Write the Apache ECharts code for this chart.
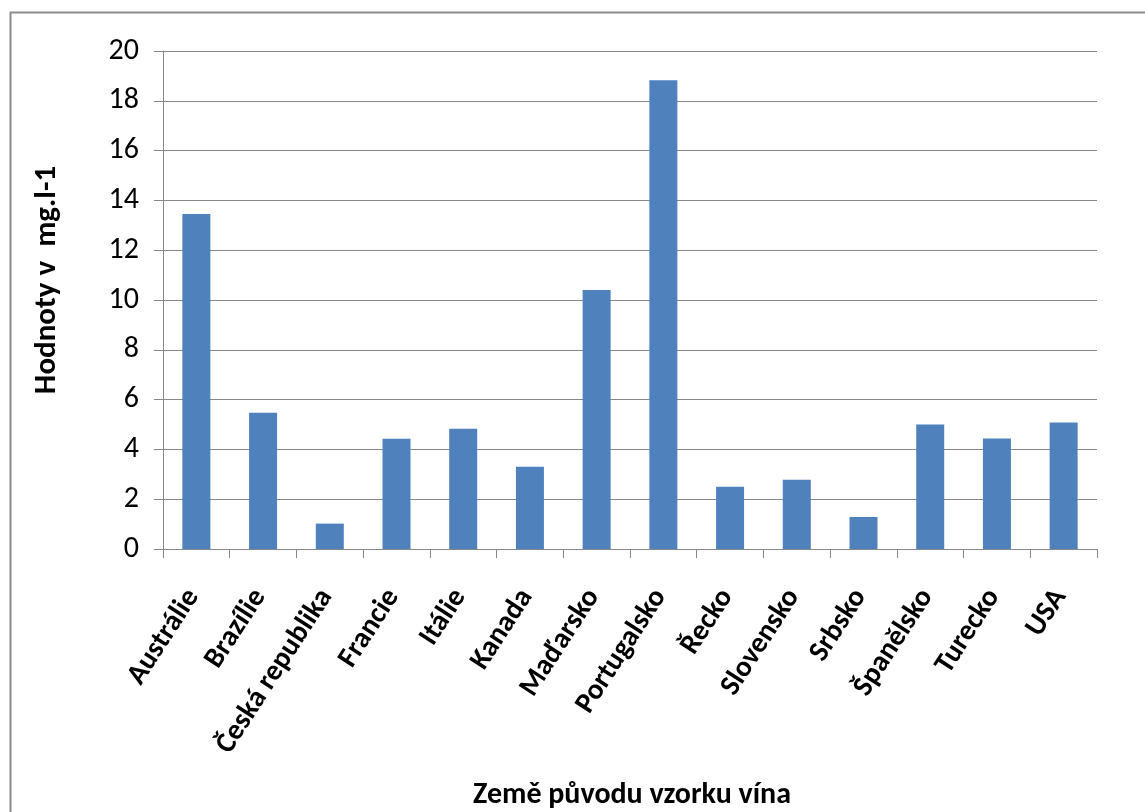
<!DOCTYPE html>
<html>
<head>
<meta charset="utf-8">
<script src="https://cdn.jsdelivr.net/npm/echarts@6/dist/echarts.min.js"></script>
<style>
  html, body { margin: 0; padding: 0; background: #fff; }
  #chart { width: 1145px; height: 812px; }
</style>
</head>
<body>
<div id="chart"></div>
<script>
// Země původu vzorků vína
const categories = ['Austrálie', 'Brazílie', 'Česká republika', 'Francie', 'Itálie', 'Kanada',
  'Maďarsko', 'Portugalsko', 'Řecko', 'Slovensko', 'Srbsko', 'Španělsko', 'Turecko', 'USA'];
// Naměřené hodnoty v mg.l-1
const values = [13.45, 5.47, 1.02, 4.43, 4.83, 3.30, 10.40, 18.83, 2.50, 2.78, 1.29, 5.00, 4.44, 5.08];
const yTicks = { min: 0, max: 20, interval: 2 };
const yName = 'Hodnoty v  mg.l-1';
const xName = 'Země původu vzorku vína';

const FONT = 'Carlito, Lato, "Noto Sans", sans-serif';
const gridColor = '#878787';

const chart = echarts.init(document.getElementById('chart'), null, { renderer: 'canvas' });
chart.setOption({
  backgroundColor: '#ffffff',
  animation: false,
  grid: { left: 163, right: 48, top: 51, bottom: 263, containLabel: false },
  xAxis: {
    type: 'category',
    data: categories,
    axisLine: { lineStyle: { color: gridColor, width: 1 } },
    axisTick: { show: true, length: 9, alignWithLabel: false, lineStyle: { color: gridColor } },
    axisLabel: {
      rotate: 57,
      interval: 0,
      margin: 38,
      padding: [0, 6, 0, 0],
      fontFamily: FONT,
      fontWeight: 'bold',
      fontSize: 29,
      color: '#000'
    }
  },
  yAxis: {
    type: 'value',
    min: yTicks.min,
    max: yTicks.max,
    interval: yTicks.interval,
    axisLine: { show: true, lineStyle: { color: gridColor, width: 1 } },
    axisTick: { show: true, length: 9, lineStyle: { color: gridColor } },
    splitLine: { show: true, lineStyle: { color: gridColor, width: 1 } },
    axisLabel: {
      margin: 24,
      fontFamily: FONT,
      fontSize: 30,
      color: '#000'
    }
  },
  series: [{
    type: 'bar',
    data: values,
    barWidth: 28,
    itemStyle: { color: '#4F81BD' }
  }],
  graphic: [
    {
      type: 'rect',
      left: 8, top: 10,
      shape: { width: 1150, height: 820 },
      style: { fill: 'none', stroke: '#8c8c8c', lineWidth: 2 },
      silent: true
    },
    {
      type: 'text',
      x: 47, y: 280,
      rotation: Math.PI / 2,
      style: {
        text: yName,
        fontFamily: FONT,
        fontWeight: 'bold',
        fontSize: 31,
        fill: '#000',
        textAlign: 'center',
        textVerticalAlign: 'middle'
      }
    },
    {
      type: 'text',
      x: 632, y: 795,
      style: {
        text: xName,
        fontFamily: FONT,
        fontWeight: 'bold',
        fontSize: 30,
        fill: '#000',
        textAlign: 'center',
        textVerticalAlign: 'middle'
      }
    }
  ]
});
</script>
</body>
</html>
